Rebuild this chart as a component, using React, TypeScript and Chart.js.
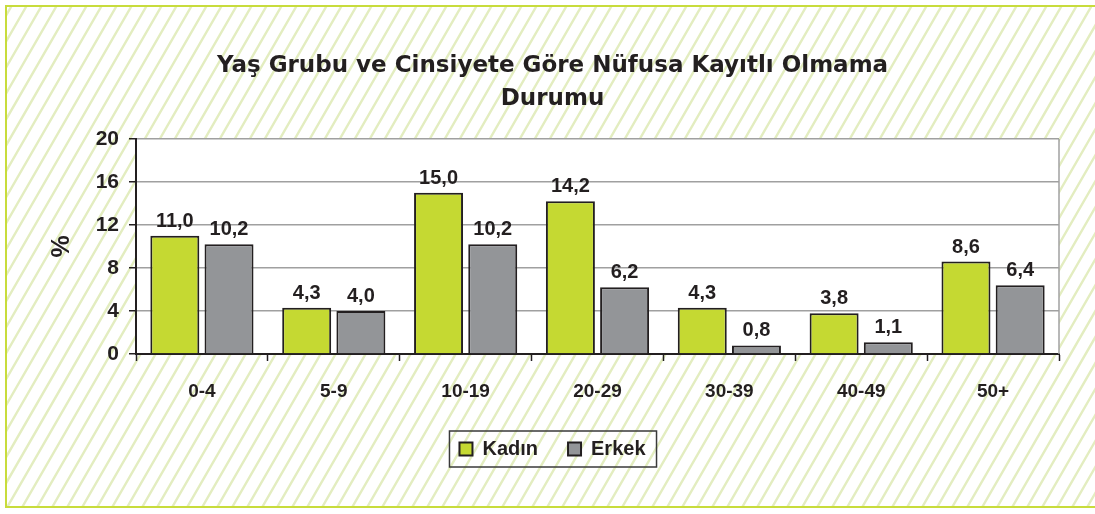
import React, { useEffect, useRef } from 'react';
import { Chart, registerables } from 'chart.js';

Chart.register(...registerables);

// ---- data ----
const categories = ['0-4', '5-9', '10-19', '20-29', '30-39', '40-49', '50+'];
const kadinValues = [11.0, 4.3, 15.0, 14.2, 4.3, 3.8, 8.6];
const erkekValues = [10.2, 4.0, 10.2, 6.2, 0.8, 1.1, 6.4];
const seriesNames = ['Kadın', 'Erkek'];
const titleLines = ['Yaş Grubu ve Cinsiyete Göre Nüfusa Kayıtlı Olmama', 'Durumu'];
const yAxisTitle = '%';
const yMin = 0;
const yMax = 20;
const yStep = 4;

// ---- styles ----
const W = 1095;
const H = 514;
const GREEN = '#c5d932';
const GRAY = '#939598';
const DARK = '#231f20';
const HATCH = '#e3edc0';
const FRAME = '#c8dc3c';
const ARIAL = "'Liberation Sans', Arial, sans-serif";
const TITLE_FONT = "'DejaVu Sans', Verdana, sans-serif";

const backgroundPlugin = {
  id: 'bgHatch',
  beforeDraw(chart: any) {
    const { ctx, chartArea } = chart;
    ctx.save();
    ctx.fillStyle = '#ffffff';
    ctx.fillRect(0, 0, W, H);
    ctx.beginPath();
    ctx.rect(6, 6, W, H - 12);
    ctx.clip();
    ctx.strokeStyle = HATCH;
    ctx.lineWidth = 2.4;
    const run = H / Math.tan((60 * Math.PI) / 180);
    ctx.beginPath();
    for (let x0 = -run - 30; x0 < W + 30; x0 += 15) {
      ctx.moveTo(x0, H);
      ctx.lineTo(x0 + run, 0);
    }
    ctx.stroke();
    ctx.restore();

    ctx.save();
    ctx.fillStyle = '#ffffff';
    ctx.fillRect(chartArea.left, chartArea.top, chartArea.right - chartArea.left, chartArea.bottom - chartArea.top);
    ctx.strokeStyle = FRAME;
    ctx.lineWidth = 2;
    ctx.strokeRect(6, 6, W + 10, H - 13);
    ctx.restore();
  },
};

const overlayPlugin = {
  id: 'overlay',
  afterDraw(chart: any) {
    const { ctx, chartArea } = chart;
    ctx.save();
    // plot area right border
    ctx.strokeStyle = '#a0a0a0';
    ctx.lineWidth = 1.5;
    ctx.beginPath();
    ctx.moveTo(chartArea.right, chartArea.top);
    ctx.lineTo(chartArea.right, chartArea.bottom);
    ctx.stroke();

    // data labels
    ctx.fillStyle = DARK;
    ctx.font = `bold 20px ${ARIAL}`;
    ctx.textAlign = 'center';
    ctx.textBaseline = 'alphabetic';
    chart.data.datasets.forEach((ds: any, di: number) => {
      const meta = chart.getDatasetMeta(di);
      meta.data.forEach((bar: any, i: number) => {
        const v = ds.data[i] as number;
        const txt = v.toFixed(1).replace('.', ',');
        ctx.fillText(txt, bar.x, bar.y - 9);
      });
    });

    // legend frame
    const boxes = chart.legend?.legendHitBoxes;
    if (boxes && boxes.length) {
      const first = boxes[0];
      const last = boxes[boxes.length - 1];
      const left = first.left - 10;
      const right = last.left + last.width + 11;
      const cy = first.top + first.height / 2;
      ctx.strokeStyle = '#3a3a3a';
      ctx.lineWidth = 1.5;
      ctx.strokeRect(left, cy - 18, right - left, 36);
    }
    ctx.restore();
  },
};

export default function App() {
  const canvasRef = useRef<HTMLCanvasElement | null>(null);

  useEffect(() => {
    if (!canvasRef.current) return;
    const chart = new Chart(canvasRef.current, {
      type: 'bar',
      data: {
        labels: categories,
        datasets: [
          {
            label: seriesNames[0],
            data: kadinValues,
            backgroundColor: GREEN,
            borderColor: DARK,
            borderWidth: 2,
            categoryPercentage: 0.822,
            barPercentage: 0.904,
          },
          {
            label: seriesNames[1],
            data: erkekValues,
            backgroundColor: GRAY,
            borderColor: DARK,
            borderWidth: 2,
            categoryPercentage: 0.822,
            barPercentage: 0.904,
          },
        ],
      },
      options: {
        responsive: false,
        animation: false,
        devicePixelRatio: 1,
        layout: { padding: { left: 46, right: 36, top: 0, bottom: 45 } },
        plugins: {
          tooltip: { enabled: false },
          title: {
            display: true,
            text: titleLines,
            color: DARK,
            font: { family: TITLE_FONT, size: 23, weight: 'bold', lineHeight: 33 / 23 },
            padding: { top: 50, bottom: 23 },
          },
          legend: {
            display: true,
            position: 'bottom',
            labels: {
              color: DARK,
              boxWidth: 13,
              boxHeight: 13,
              padding: 30,
              font: { family: ARIAL, size: 20, weight: 'bold' },
            },
          },
        },
        scales: {
          x: {
            offset: true,
            grid: {
              display: true,
              drawOnChartArea: false,
              drawTicks: true,
              tickLength: 7,
              tickColor: DARK,
              tickWidth: 1.5,
              offset: true,
            },
            border: { display: true, color: DARK, width: 2 },
            ticks: {
              color: DARK,
              padding: 19,
              font: { family: ARIAL, size: 19, weight: 'bold' },
            },
            afterFit: (scale: any) => {
              scale.height = 55;
            },
          },
          y: {
            min: yMin,
            max: yMax,
            ticks: {
              stepSize: yStep,
              color: DARK,
              padding: 10,
              font: { family: ARIAL, size: 21, weight: 'bold' },
            },
            grid: {
              color: '#a0a0a0',
              lineWidth: 1.5,
              tickLength: 7,
              tickColor: DARK,
              tickWidth: 1.5,
            },
            border: { display: true, color: DARK, width: 2 },
            title: {
              display: true,
              text: yAxisTitle,
              color: DARK,
              font: { family: ARIAL, size: 25, weight: 'bold', lineHeight: 1.2 },
              padding: { top: 1, bottom: 0 },
            },
            afterFit: (scale: any) => {
              scale.width = 90;
            },
          },
        },
      },
      plugins: [backgroundPlugin, overlayPlugin],
    } as any);
    return () => chart.destroy();
  }, []);

  return (
    <div style={{ position: 'fixed', left: 0, top: 0, width: W, height: H }}>
      <canvas ref={canvasRef} width={W} height={H} style={{ display: 'block', width: W, height: H }} />
    </div>
  );
}
